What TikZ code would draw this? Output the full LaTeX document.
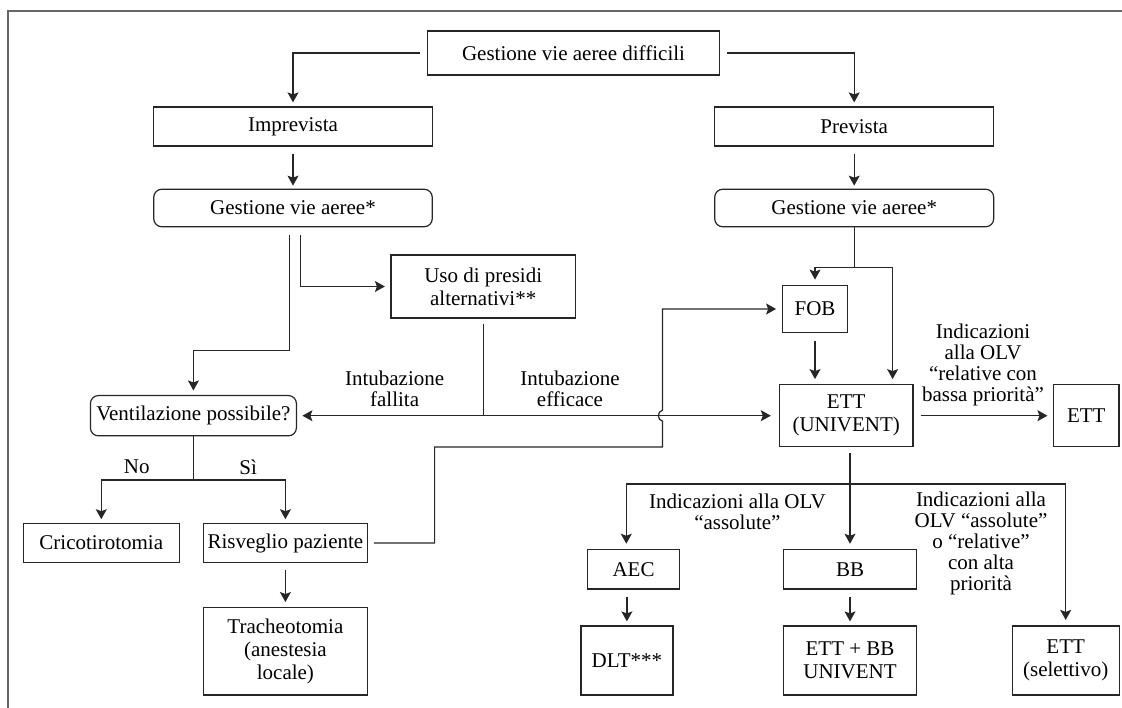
\documentclass[tikz,border=0pt]{standalone}
\usepackage{fontspec}
\setmainfont{Liberation Serif}
\usetikzlibrary{arrows.meta,calc}
\tikzset{
  >={Stealth[length=10pt,width=11pt,inset=2pt]},
  box/.style={draw=black!85, line width=1.2pt, rectangle, inner sep=0pt, align=center, text=black},
  rbox/.style={box, rounded corners=8pt},
  lbl/.style={inner sep=0pt, align=center, text=black, font=\fontsize{21pt}{21pt}\selectfont},
  con/.style={draw=black!85, line width=1.2pt},
  arr/.style={con, ->},
  frameline/.style={draw=black!60, line width=2pt},
}
\begin{document}
\begin{tikzpicture}[x=1pt,y=-1pt, every node/.style={font=\fontsize{21pt}{23pt}\selectfont}]
\useasboundingbox (0,0) rectangle (1122,708);
\draw[frameline] (8,708) -- (8,11) -- (1122,11);

% nodes
\node[box, minimum width=292pt, minimum height=44pt] (top) at (573.5,53) {Gestione vie aeree difficili};
\node[box, minimum width=278.5pt, minimum height=39pt] (impr) at (293,126.5) {Imprevista};
\node[box, minimum width=279pt, minimum height=39pt] (prev) at (854.2,126.5) {Prevista};
\node[rbox, minimum width=278.5pt, minimum height=37.5pt] (gl) at (293,208) {Gestione vie aeree*};
\node[rbox, minimum width=279pt, minimum height=37.5pt] (gr) at (854.2,208) {Gestione vie aeree*};
\node[box, minimum width=184.4pt, minimum height=63pt] (uso) at (483.2,286.5) {Uso di presidi\\alternativi**};
\node[rbox, minimum width=206pt, minimum height=40.3pt] (vent) at (193.4,415.7) {Ventilazione possibile?};
\node[box, minimum width=65.6pt, minimum height=46.6pt] (fob) at (815,309) {FOB};
\node[box, minimum width=133.6pt, minimum height=62pt] (ett) at (846.2,415.7) {ETT\\(UNIVENT)};
\node[box, minimum width=65.5pt, minimum height=62pt] (ettr) at (1086.3,415.7) {ETT};
\node[box, minimum width=156pt, minimum height=39.4pt] (crico) at (101.3,543) {Cricotirotomia};
\node[box, minimum width=163.5pt, minimum height=39.4pt] (risv) at (285.4,543) {Risveglio paziente};
\node[box, minimum width=163.5pt, minimum height=87.3pt] (trach) at (285.4,651.3) {Tracheotomia\\(anestesia\\locale)};
\node[box, minimum width=91.8pt, minimum height=39.7pt] (aec) at (633.5,569.2) {AEC};
\node[box, minimum width=92pt, minimum height=69pt] (dlt) at (626.9,660.5) {DLT***};
\node[box, minimum width=133.3pt, minimum height=39.7pt] (bb) at (850,569.2) {BB};
\node[box, minimum width=133.3pt, minimum height=69pt] (ettbb) at (850,660.5) {ETT + BB\\UNIVENT};
\node[box, minimum width=107pt, minimum height=69pt] (etts) at (1065.7,660.5) {ETT\\(selettivo)};

% labels
\node[lbl] (lfall) at (394.6,388.5) {Intubazione\\fallita};
\node[lbl] (leff) at (570,388.5) {Intubazione\\efficace};
\node[lbl] (lrel) at (983,364.5) {Indicazioni\\alla OLV\\“relative con\\bassa priorità”};
\node[lbl] (lno) at (136.8,467) {No};
\node[lbl] (lsi) at (248.2,467) {Sì};
\node[lbl] (lass) at (737.4,511.7) {Indicazioni alla OLV\\“assolute”};
\node[lbl] (lalta) at (981,543.5) {Indicazioni alla\\OLV “assolute”\\o “relative”\\con alta\\priorità};

% connectors
\draw[arr, shorten <=7pt, shorten >=4pt] (top.west) -| (impr.north);
\draw[arr, shorten <=7pt, shorten >=4pt] (top.east) -| (prev.north);
\draw[arr, shorten <=7pt, shorten >=3pt] (impr.south) -- (gl.north);
\draw[arr, shorten <=7pt, shorten >=3pt] (prev.south) -- (gr.north);

\draw[arr, shorten >=4.5pt] ($(gl.south)+(-3.7,8)$) -- ++(0,115) -| (vent.north);
\draw[arr, shorten >=5.5pt] ($(gl.south)+(7.7,8)$) |- (uso.west);

\draw[con, <->, shorten <=5.4pt, shorten >=8pt] (vent.east) -- (ett.west);
\draw[con, shorten <=5pt] (uso.south) -- (uso.south |- vent.east);

\draw[arr, shorten <=6pt, shorten >=5.5pt] (risv.east) -- (434.6,543) -- (434.6,447) -- (662.5,447) -- (662.5,421.2)
  .. controls (657,420) and (657,411.4) .. (662.5,410.2) -- (662.5,309) -- (fob.west);

\coordinate (gsplit) at ($(gr.south)+(0,40.3)$);
\draw[arr, shorten >=5.5pt] (gr.south) -- (gsplit) -| (fob.north);
\draw[arr, shorten >=5pt] (gsplit) -| ($(ett.north)+(46.4,0)$);
\draw[arr, shorten <=8pt, shorten >=5pt] (fob.south) -- (fob.south |- ett.north);
\draw[arr, shorten <=7pt, shorten >=5.5pt] (ett.east) -- (ettr.west);

\coordinate (hl) at (626.3,484);
\coordinate (hr) at (1065.7,484);
\draw[arr, shorten <=6pt, shorten >=5pt] (bb.north |- ett.south) -- (bb.north);
\draw[con] (hl) -- (hr);
\draw[arr, shorten >=5pt] (hl) -- (aec.north -| hl);
\draw[arr, shorten >=5.5pt] (hr) -- (etts.north);
\draw[arr, shorten <=7pt, shorten >=4pt] (aec.south -| dlt.north) -- (dlt.north);
\draw[arr, shorten <=7pt, shorten >=4pt] (bb.south) -- (ettbb.north);

\coordinate (vs) at (193.4,480);
\draw[con] (vent.south) -- (vs);
\draw[arr, shorten >=3.5pt] (vs) -| (crico.north);
\draw[arr, shorten >=3.5pt] (vs) -| (risv.north);
\draw[arr, shorten <=7pt, shorten >=5pt] (risv.south) -- (trach.north);
\end{tikzpicture}
\end{document}
